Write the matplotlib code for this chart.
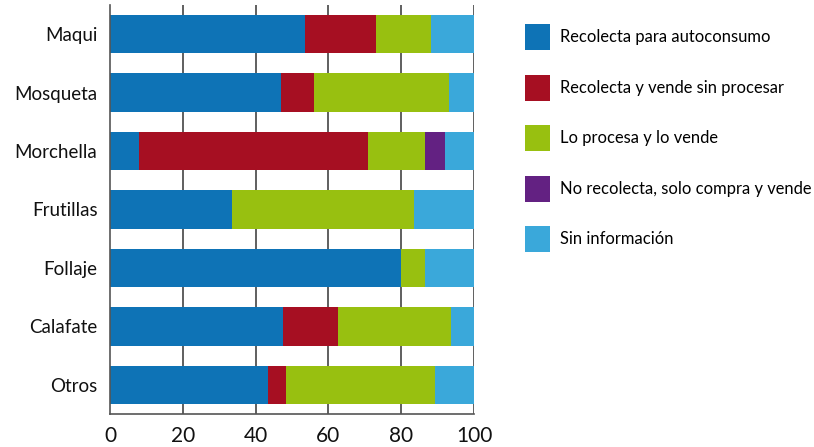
import matplotlib.pyplot as plt
import numpy as np
from matplotlib.patches import Patch

plt.rcParams['font.family'] = ['Lato', 'DejaVu Sans']

categories = ['Maqui', 'Mosqueta', 'Morchella', 'Frutillas', 'Follaje', 'Calafate', 'Otros']
series_names = ['Recolecta para autoconsumo', 'Recolecta y vende sin procesar',
                'Lo procesa y lo vende', 'No recolecta, solo compra y vende',
                'Sin información']
autoconsumo = [53.6, 47.0, 8.0, 33.5, 79.9, 47.5, 43.5]
vende_sin_procesar = [19.4, 9.0, 62.8, 0.0, 0.0, 15.1, 4.9]
procesa_vende = [15.1, 37.2, 15.7, 49.9, 6.6, 31.1, 41.0]
compra_vende = [0.0, 0.0, 5.5, 0.0, 0.0, 0.0, 0.0]
sin_info = [11.9, 6.8, 8.0, 16.6, 13.5, 6.3, 10.6]
colors = ['#0E73B6', '#A60F22', '#98C010', '#632182', '#3AA8DA']

W, H = 814, 447
fig = plt.figure(figsize=(W / 100, H / 100), dpi=100)
ax = fig.add_axes([110 / W, 1 - 414 / H, (474 - 110) / W, (414 - 5) / H])

series = [autoconsumo, vende_sin_procesar, procesa_vende, compra_vende, sin_info]
y = np.arange(len(categories))
left = np.zeros(len(categories))
for vals, c in zip(series, colors):
    vals = np.array(vals)
    ax.barh(y, vals, left=left, height=0.66, color=c, zorder=2, linewidth=0)
    left += vals

ax.set_xlim(0, 100)
ax.set_ylim(len(categories) - 0.5, -0.5)
ax.set_yticks(y)
ax.set_yticklabels(categories, fontsize=13.5)
ax.set_xticks(np.arange(0, 101, 20))
ax.tick_params(axis='both', length=0, colors='#111111')
ax.tick_params(axis='x', labelsize=15, pad=9)
ax.tick_params(axis='y', pad=9)
for x in range(20, 101, 20):
    ax.axvline(x, color='#444444', linewidth=1.2, zorder=1)
for s in ['top', 'right']:
    ax.spines[s].set_visible(False)
for s in ['left', 'bottom']:
    ax.spines[s].set_color('#555555')
    ax.spines[s].set_linewidth(1.2)

handles = [Patch(facecolor=c, edgecolor='none') for c in colors]
fig.legend(handles, series_names, loc='upper left',
           bbox_to_anchor=(525 / W, 1 - 24 / H), frameon=False,
           fontsize=11.9, handlelength=1.5, handleheight=2.05,
           labelspacing=1.48, handletextpad=0.6, borderpad=0,
           borderaxespad=0)

fig.savefig('out.png', dpi=100)
